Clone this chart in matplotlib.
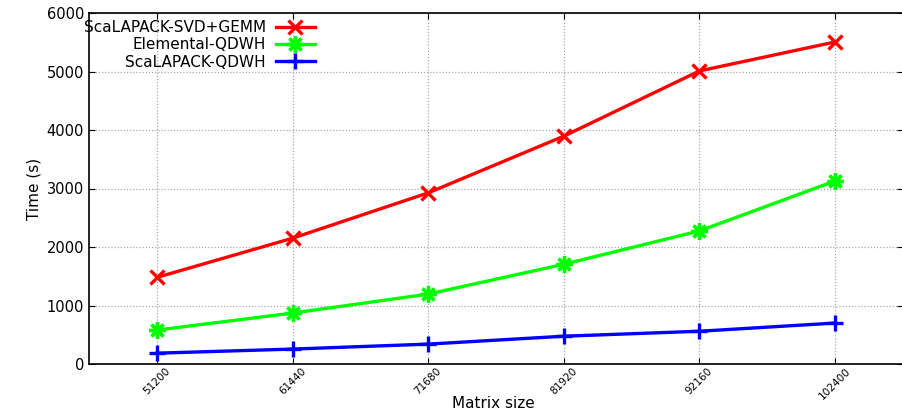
import numpy as np
import matplotlib.pyplot as plt

sizes = [51200, 61440, 71680, 81920, 92160, 102400]
svd_gemm = [1480, 2150, 2925, 3895, 5010, 5505]
elemental = [580, 870, 1195, 1705, 2275, 3130]
scalapack = [185, 255, 340, 475, 560, 700]

fig = plt.figure(figsize=(9.03, 4.09), dpi=100)
ax = fig.add_axes([89 / 903, 1 - 364 / 409, 1 - 89 / 903, 351 / 409])

lw = 2.4
ax.plot(sizes, svd_gemm, color='#ff0000', lw=lw, marker='x', ms=10, mew=2.4,
        label='ScaLAPACK-SVD+GEMM')
ax.plot(sizes, elemental, color='#00ff00', lw=lw, marker=(8, 2, 0), ms=12, mew=2.4,
        label='Elemental-QDWH')
ax.plot(sizes, scalapack, color='#0000ff', lw=lw, marker='+', ms=11, mew=2.4,
        label='ScaLAPACK-QDWH')

ax.set_xlim(46080, 107520)
ax.set_ylim(0, 6000)
ax.set_xticks(sizes)
ax.set_xticklabels([str(s) for s in sizes], rotation=45, fontsize=7.6,
                   ha='center', va='top')
ax.set_yticks(np.arange(0, 6001, 1000))
ax.tick_params(axis='y', labelsize=10.5)
ax.tick_params(axis='x', pad=1.5)
ax.tick_params(direction='in', top=True, right=True, length=4)
ax.grid(True, color='#aaaaaa', linestyle=(0, (1, 1.5)), lw=0.9)
ax.spines['right'].set_visible(False)
for s in ['left', 'bottom', 'top']:
    ax.spines[s].set_linewidth(1.2)

ax.set_xlabel('Matrix size', fontsize=11, va='center')
ax.xaxis.set_label_coords(0.5 - 3 / 814, -39 / 351)
ax.set_ylabel('Time (s)', fontsize=11)

ax.legend(loc='upper left', bbox_to_anchor=(-0.018, 1.006), frameon=False,
          markerfirst=False, fontsize=11, handlelength=2.6, labelspacing=0.15,
          borderaxespad=0.2, handletextpad=0.65)

fig.savefig('out.png', dpi=100)
